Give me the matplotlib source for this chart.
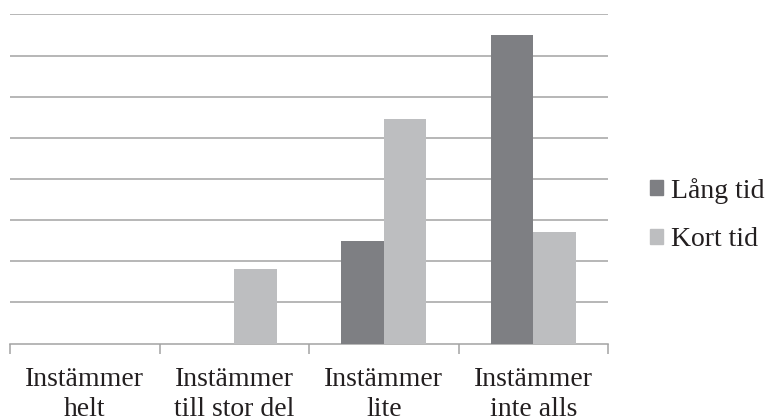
import matplotlib.pyplot as plt
import numpy as np
from matplotlib.patches import Patch

plt.rcParams['font.family'] = ['Liberation Serif', 'DejaVu Serif']

# svarskategorier och andel per grupp (i rutnätsenheter)
categories = ["Instämmer\nhelt", "Instämmer\ntill stor del", "Instämmer\nlite", "Instämmer\ninte alls"]
lang_tid = [0, 0, 2.5, 7.5]
kort_tid = [0, 1.8, 5.45, 2.71]

dark = "#7e7f83"
light = "#bdbec0"
grid_col = "#a3a3a3"
text_col = "#231f20"

fig = plt.figure(figsize=(7.66, 4.19), dpi=100)
ax = fig.add_axes([10/766, 1 - 343.5/419, (608 - 10)/766, (343.5 - 14.5)/419])

x = np.arange(len(categories))
w = 0.284
ax.bar(x - w/2, lang_tid, w, color=dark, zorder=3)
ax.bar(x + w/2, kort_tid, w, color=light, zorder=3)

ax.set_xlim(-0.5, len(categories) - 0.5)
ax.set_ylim(0, 8)
ax.set_yticks(np.arange(1, 9))
ax.yaxis.grid(True, color=grid_col, linewidth=1.1, zorder=0)
ax.tick_params(axis='y', length=0, labelleft=False)

# kategorinamn under mitten, tickmarkeringar mellan kategorierna
ax.set_xticks(x)
ax.set_xticklabels(categories, fontsize=20, color=text_col, linespacing=1.27)
ax.tick_params(axis='x', which='major', length=0, pad=17)
ax.set_xticks(np.arange(-0.5, len(categories)), minor=True)
ax.tick_params(axis='x', which='minor', length=7, width=1.1, color=grid_col, direction='out')

for s in ['top', 'right', 'left']:
    ax.spines[s].set_visible(False)
ax.spines['bottom'].set_color(grid_col)
ax.spines['bottom'].set_linewidth(1.1)

handles = [Patch(color=dark, label="Lång tid"), Patch(color=light, label="Kort tid")]
fig.legend(handles=handles, loc='center left', bbox_to_anchor=(650/766, 1 - 215/419),
           frameon=False, fontsize=20, handlelength=0.47, handleheight=0.47,
           handletextpad=0.29, labelspacing=0.85, labelcolor=text_col,
           borderpad=0, borderaxespad=0)

fig.savefig("out.png", dpi=100)
